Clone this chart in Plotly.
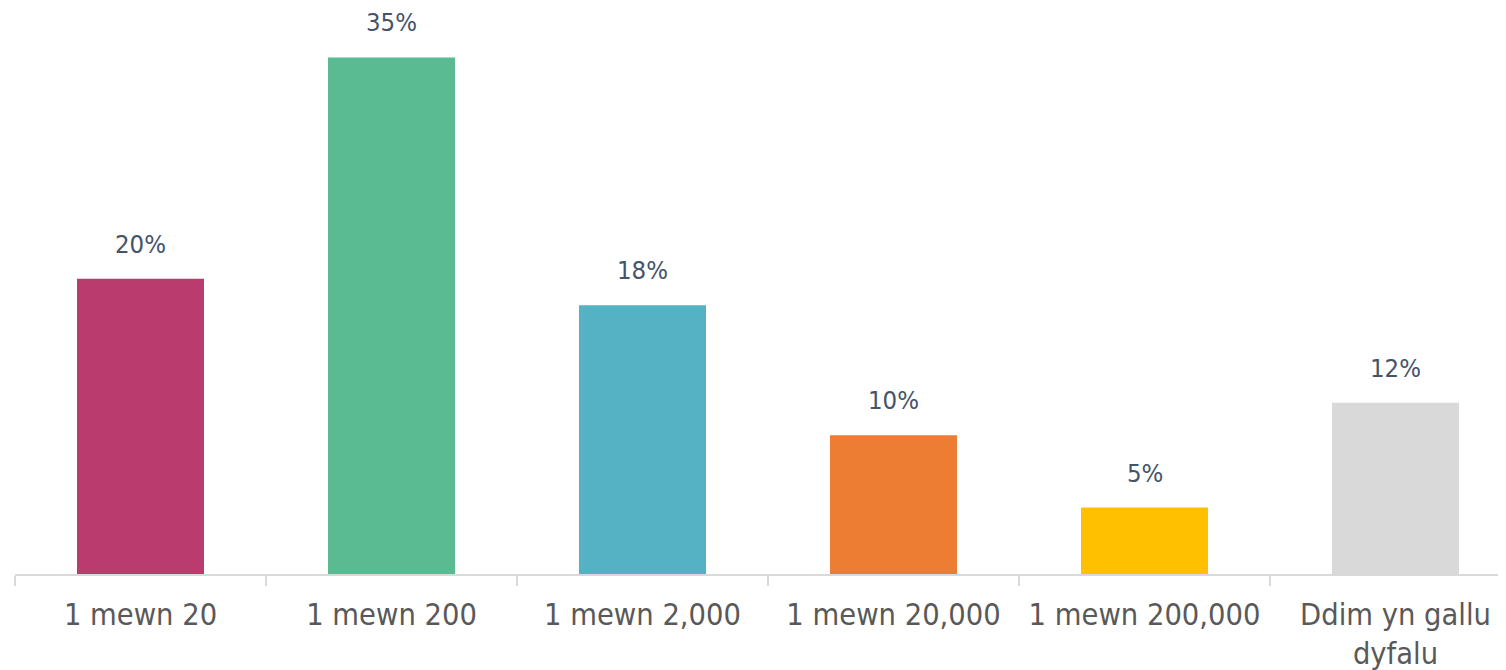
import plotly.graph_objects as go

categories = ["1 mewn 20", "1 mewn 200", "1 mewn 2,000", "1 mewn 20,000", "1 mewn 200,000", "Ddim yn gallu<br>dyfalu"]
values = [20.0, 35.0, 18.2, 9.4, 4.5, 11.6]
labels = ["20%", "35%", "18%", "10%", "5%", "12%"]
colors = ["#BA3C6F", "#5ABA91", "#55B2C4", "#ED7D32", "#FFC000", "#D9D9D9"]

FONT = "DejaVu Sans Condensed, DejaVu Sans, sans-serif"

W, H = 1506, 670
ML, MB = 7, 104
CAT_PX = 251.0
PX_PER_UNIT = 14.76

fig = go.Figure(
    go.Bar(
        x=categories,
        y=values,
        marker=dict(color=colors, line=dict(width=0)),
        cliponaxis=False,
        hoverinfo="skip",
    )
)

for cat, val, lab in zip(categories, values, labels):
    fig.add_annotation(
        x=cat, y=val, text=lab, showarrow=False,
        xanchor="center", yanchor="bottom", yshift=18,
        font=dict(family=FONT, size=25.5, color="#44546A"),
    )

fig.update_layout(
    width=W,
    height=H,
    margin=dict(l=ML, r=0, t=0, b=MB),
    paper_bgcolor="white",
    plot_bgcolor="white",
    bargap=0.494,
    showlegend=False,
)
fig.update_xaxes(
    type="category",
    range=[-0.5, -0.5 + (W - ML) / CAT_PX],
    automargin=False,
    showline=True,
    linecolor="#D9D9D9",
    linewidth=2,
    ticks="outside",
    tickson="boundaries",
    ticklen=10,
    tickcolor="#D9D9D9",
    tickwidth=2,
    ticklabelstandoff=12,
    tickfont=dict(family=FONT, size=30.5, color="#595959"),
    showgrid=False,
    fixedrange=True,
)
fig.update_yaxes(
    range=[0, (H - MB) / PX_PER_UNIT],
    visible=False,
    automargin=False,
    showgrid=False,
    zeroline=False,
    fixedrange=True,
)

fig.write_html("out.html")
